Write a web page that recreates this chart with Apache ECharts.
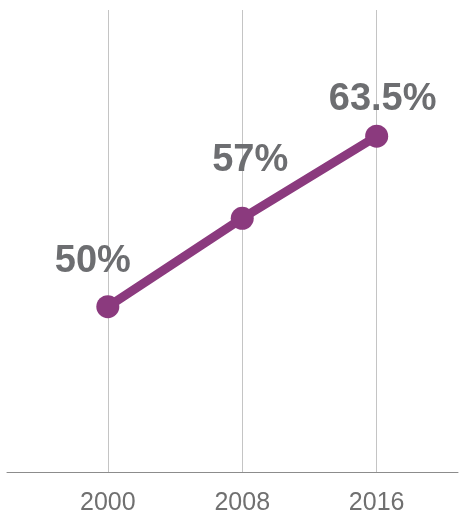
<!DOCTYPE html>
<html>
<head>
<meta charset="utf-8">
<script src="https://cdn.jsdelivr.net/npm/echarts@6/dist/echarts.min.js"></script>
<style>
  html, body { margin: 0; padding: 0; background: #fff; }
  #chart { width: 459px; height: 514px; }
</style>
</head>
<body>
<div id="chart"></div>
<script>
const years = [2000, 2008, 2016];
const shares = [50, 57, 63.5];
const labelShift = [[-15, -10], [8, -22], [6, -1]];

let myChart = echarts.init(document.getElementById('chart'));
let option = {
  animation: false,
  grid: { left: 7, right: 1, top: 10, bottom: 42, outerBoundsMode: 'none', containLabel: false },
  xAxis: {
    type: 'value',
    min: 1994,
    max: 2020.84,
    axisLine: { show: true, onZero: false, lineStyle: { color: '#8c8c8c', width: 1 } },
    axisTick: { show: false, customValues: years },
    axisLabel: {
      customValues: years,
      formatter: v => String(v),
      color: '#707070',
      fontFamily: 'Liberation Sans',
      fontSize: 25,
      margin: 19
    },
    splitLine: { show: true, lineStyle: { color: '#c4c4c4', width: 1 } }
  },
  yAxis: {
    type: 'value',
    min: 36.9,
    max: 73.5,
    show: false,
    splitLine: { show: false }
  },
  series: [{
    type: 'line',
    data: years.map((y, i) => ({
      value: [y, shares[i]],
      label: { offset: labelShift[i] }
    })),
    symbol: 'circle',
    symbolSize: 23,
    lineStyle: { color: '#8b3a7e', width: 9 },
    itemStyle: { color: '#8b3a7e' },
    label: {
      show: true,
      position: 'top',
      formatter: p => p.value[1] + '%',
      color: '#6d6e71',
      fontFamily: 'Liberation Sans',
      fontWeight: 'bold',
      fontSize: 38
    }
  }]
};
myChart.setOption(option);
</script>
</body>
</html>
